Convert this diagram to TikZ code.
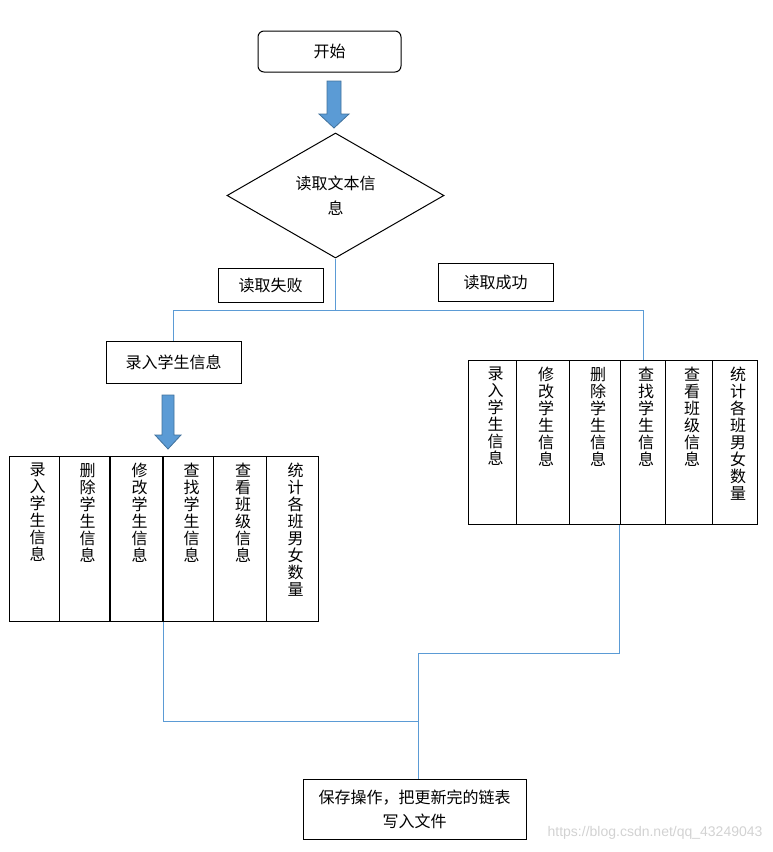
\documentclass[tikz,border=0pt]{standalone}
\usepackage{fontspec}
\setmainfont{Noto Sans CJK SC}
\newfontfamily\markfont{Liberation Sans}
\usetikzlibrary{positioning, shapes.geometric, calc}
\definecolor{linkblue}{HTML}{5B9BD5}
\definecolor{arrowedge}{HTML}{41719C}

\begin{document}
\begin{tikzpicture}[
    x=1pt, y=-1pt,
    font=\fontsize{16}{17}\selectfont,
    box/.style={draw=black, line width=1pt, inner sep=0pt},
    startbox/.style={box, rounded corners=6pt, minimum width=143, minimum height=41},
    decision/.style={box, diamond, minimum width=217, minimum height=125, align=center},
    col/.style={box, anchor=north west},
    vtext/.style={anchor=north, align=center, text width=1em, inner sep=0pt},
    link/.style={draw=linkblue, line width=1pt},
    bigarrow/.style={fill=linkblue, draw=arrowedge, line width=0.8pt}
]
    \useasboundingbox (0,0) rectangle (772,852);

    % --- top: start and reading the file ---
    \node[startbox] (start) at (329.5,51.5) {开始};
    \draw[bigarrow] (327,81) -- (341,81) -- (341,114) -- (349,114) -- (334,128)
        -- (319,114) -- (327,114) -- cycle;
    \node[decision, font=\fontsize{16}{25}\selectfont] (read) at (335.5,195.5) {读取文本信\\息};

    \node[box, minimum width=105, minimum height=34] (fail) at (270.5,285) {读取失败};
    \node[box, minimum width=115, minimum height=38] (ok) at (495.5,282) {读取成功};

    \coordinate (branch) at (335.5,310);

    % --- left branch: file could not be read ---
    \node[box, minimum width=135, minimum height=42] (input) at (173.5,362) {录入学生信息\hspace{10pt}};
    \draw[bigarrow] (162,395) -- (174,395) -- (174,435) -- (181,435) -- (168,449)
        -- (155,435) -- (162,435) -- cycle;

    \foreach \n/\xa/\xb/\txt in {
        1/9/59/{录\\入\\学\\生\\信\\息},
        2/59/109/{删\\除\\学\\生\\信\\息},
        3/110/162/{修\\改\\学\\生\\信\\息},
        4/163/213/{查\\找\\学\\生\\信\\息},
        5/213/266/{查\\看\\班\\级\\信\\息},
        6/266/318/{统\\计\\各\\班\\男\\女\\数\\量}} {
        \node[col, minimum width=\xb-\xa, minimum height=165] (l\n) at (\xa,456) {};
        \node[vtext] at ([yshift=-7pt]l\n.north) {\txt};
    }

    % --- right branch: file read successfully ---
    \foreach \n/\xa/\xb/\txt in {
        1/468/516/{录\\入\\学\\生\\信\\息},
        2/516/569/{修\\改\\学\\生\\信\\息},
        3/569/620/{删\\除\\学\\生\\信\\息},
        4/620/665/{查\\找\\学\\生\\信\\息},
        5/665/712/{查\\看\\班\\级\\信\\息},
        6/712/757/{统\\计\\各\\班\\男\\女\\数\\量}} {
        \node[col, minimum width=\xb-\xa, minimum height=164] (r\n) at (\xa,360) {};
        \node[vtext] at ([yshift=-7pt]r\n.north) {\txt};
    }

    % --- saving ---
    \node[box, minimum width=223, minimum height=60, align=center, text width=210pt,
        font=\fontsize{16}{24}\selectfont] (save) at (414.5,809) {保存操作，把更新完的链表\\写入文件};

    \coordinate (join) at (418,721);
    \coordinate (bendR) at (418,653);

    % --- connectors ---
    \draw[link] (read.south) -- (branch);
    \draw[link] (branch) -| (input.north);
    \draw[link] (branch) -| (r4.north);
    \draw[link] (l3.south east) |- (join);
    \draw[link] ([xshift=-2pt]r3.south east) |- (bendR) -- (join);
    \draw[link] (join) -- (join |- save.north);

    \node[anchor=east, text=gray!35, font=\markfont\fontsize{14}{14}\selectfont] (mark) at (766,833)
        {https://blog.csdn.net/qq\_43249043};
\end{tikzpicture}
\end{document}
